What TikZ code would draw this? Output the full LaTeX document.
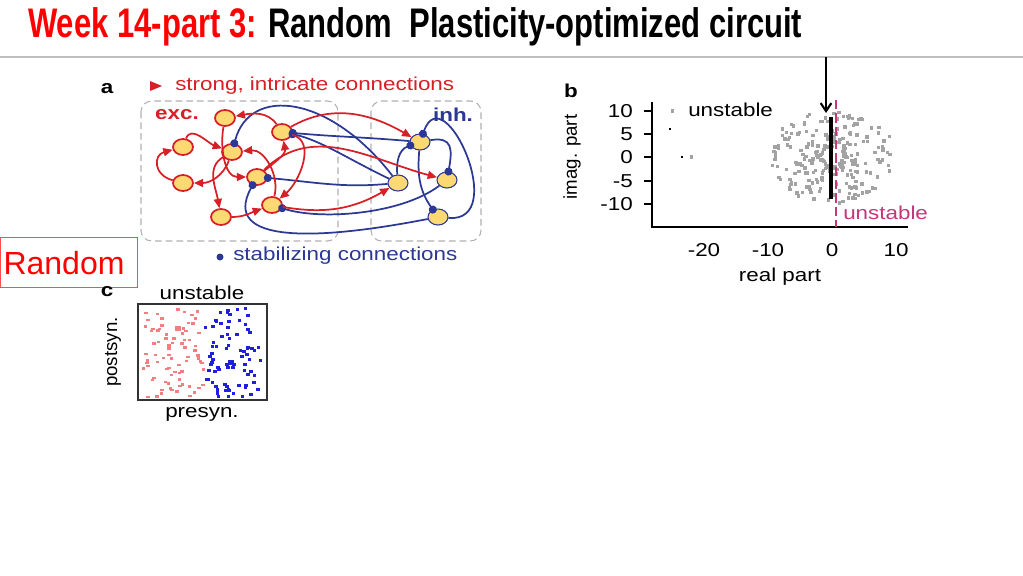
\documentclass[tikz,border=0pt]{standalone}
\usepackage{fontspec}
\setmainfont{Liberation Sans}
\usepackage{tikz}
\usetikzlibrary{arrows.meta}
\usetikzlibrary{shapes.geometric}
\definecolor{titlered}{rgb}{1.0, 0.0, 0.0}
\definecolor{excred}{rgb}{0.84, 0.12, 0.15}
\definecolor{inhblue}{rgb}{0.17, 0.22, 0.58}
\definecolor{cellfill}{rgb}{0.99, 0.85, 0.45}
\definecolor{unstab}{rgb}{0.76, 0.22, 0.47}
\definecolor{dotgray}{rgb}{0.64, 0.64, 0.64}
\definecolor{prepink}{rgb}{0.94, 0.50, 0.50}
\definecolor{postblue}{rgb}{0.12, 0.12, 0.88}
\newcommand{\widetxt}[1]{\scalebox{1.2}[1]{#1}}

\begin{document}
\begin{tikzpicture}[x=0.75pt, y=0.75pt,
    panel/.style={font=\fontsize{14}{16}\selectfont, inner sep=0pt},
    tag/.style={font=\fontsize{14}{16}\selectfont\bfseries, inner sep=0pt},
    exc/.style={ellipse, draw=excred, fill=cellfill, line width=1.3pt, minimum width=15pt, minimum height=12pt, inner sep=0pt},
    inh/.style={ellipse, draw=inhblue, fill=cellfill, line width=0.8pt, minimum width=15pt, minimum height=12pt, inner sep=0pt},
    strong/.style={draw=excred, line width=1.3pt, -{Triangle[length=7pt, width=6pt]}},
    stab/.style={draw=inhblue, line width=1.3pt, shorten >=-3pt, -{Circle[length=6pt]}},
    group/.style={draw=gray!60, line width=0.8pt, dash pattern=on 5pt off 3pt, rounded corners=8pt}]
    \useasboundingbox (0,0) rectangle (1023,-575);
    \fill [white] (0,0) rectangle (1023,-575);

    % title and rule
    \node [anchor=base west, inner sep=0pt, font=\fontsize{31}{31}\selectfont\bfseries] (title) at (28,-37)
        {\scalebox{0.75}[1]{\textcolor{titlered}{Week 14-part 3:} Random\ \ Plasticity-optimized circuit}};
    \draw [gray!50, line width=2pt] (0,-57) -- (1023,-57);

    \draw [red!70, line width=0.6pt] (0,-237) rectangle (137,-287);
    \node [text=titlered, font=\fontsize{24}{26}\selectfont, inner sep=0pt] (random) at (64,-263) {Random};

    % panel a
    \node [tag] (taga) at (107,-89) {\widetxt{a}};
    \fill [excred] (150,-81) -- (162,-86) -- (150,-91) -- cycle;
    \node [panel, text=excred, anchor=west] (strongtxt) at (175,-86) {\widetxt{strong, intricate connections}};
    \draw [group] (141,-101) rectangle (338,-241);
    \draw [group] (371,-101) rectangle (481,-241);
    \node [tag, text=excred] (exclbl) at (177,-115) {\widetxt{exc.}};
    \node [tag, text=inhblue] (inhlbl) at (453,-115) {\widetxt{inh.}};

    \node [exc] (e1) at (225,-118) {};
    \node [exc] (e2) at (183,-147) {};
    \node [exc] (e3) at (232,-152) {};
    \node [exc] (e4) at (282,-132) {};
    \node [exc] (e5) at (183,-183) {};
    \node [exc] (e6) at (257,-177) {};
    \node [exc] (e7) at (272,-205) {};
    \node [exc] (e8) at (221,-217) {};
    \node [inh] (i1) at (420,-142) {};
    \node [inh] (i2) at (398,-183) {};
    \node [inh] (i3) at (447,-180) {};
    \node [inh] (i4) at (438,-217) {};

    % stabilizing (blue) connections
    \draw [stab] (i2) .. controls (330,-95) and (250,-85) .. (e3);
    \draw [stab] (i1) to [out=175, in=-5] (e4);
    \draw [stab] (i2) .. controls (350,-160) and (320,-140) .. (e4);
    \draw [stab] (i2) to [out=185, in=-5] (e6);
    \draw [stab] (i4) .. controls (320,-240) and (220,-245) .. (e6);
    \draw [stab] (i3) .. controls (400,-215) and (320,-220) .. (e7);
    \draw [stab] (i1) to [out=10, in=80, looseness=1.6] (i3);
    \draw [stab] (i2) to [out=95, in=200] (i1);
    \draw [stab] (i1) to [out=-95, in=125] (i4);
    \draw [stab] (i4) to [out=-5, in=70, looseness=1.8] (i1);

    % strong (red) connections
    \draw [strong] (e2) to [out=70, in=160] (e3);
    \draw [strong] (e5) to [out=165, in=195, looseness=1.7] (e2);
    \draw [strong] (e3) to [out=-110, in=0] (e5);
    \draw [strong] (e4) to [out=125, in=10] (e1);
    \draw [strong] (e1) to [out=-100, in=180] (e6);
    \draw [strong] (e3) to [out=-150, in=100] (e8);
    \draw [strong] (e8) to [out=0, in=200] (e7);
    \draw [strong] (e7) to [out=75, in=5] (e3);
    \draw [strong] (e6) to [out=40, in=-80] (e4);
    \draw [strong] (e4) to [out=-15, in=40] (e7);
    \draw [strong] (e4) to [out=30, in=150] (i1);
    \draw [strong] (e6) to [out=45, in=165] (i3);
    \draw [strong] (e7) to [out=-10, in=210] (i2);

    \fill [inhblue] (220,-257) circle (3.5);
    \node [panel, text=inhblue, anchor=west] (stabtxt) at (233,-256) {\widetxt{stabilizing connections}};

    % panel b
    \node [tag] (tagb) at (571,-91) {\widetxt{b}};
    \draw [line width=0.8pt] (652,-102) -- (652,-227) -- (908,-227);
    \foreach \v/\py in {10/111, 5/134, 0/157, -5/181, -10/204} {
        \draw [line width=0.8pt] (644,-\py) -- (651,-\py);
        \node [panel, anchor=east] at (633,-\py) {\widetxt{\v}};
    }
    \foreach \v/\px in {-20/704, -10/768, 0/832, 10/896} {
        \node [panel] at (\px,-250) {\widetxt{\v}};
    }
    \node [panel, rotate=90] (ylbl) at (572,-157) {imag. part};
    \node [panel] (xlbl) at (780,-277) {\widetxt{real part}};

    \pgfmathsetseed{17}
    \foreach \k in {1,...,250} {
        \pgfmathsetmacro{\ang}{360*rnd}
        \pgfmathsetmacro{\rad}{0.15+0.85*rnd}
        \fill [dotgray] ({833+63*\rad*cos(\ang)-1.7},{-157+47*\rad*sin(\ang)-1.7}) rectangle ++(3.4,3.4);
    }
    \fill [dotgray] (670.5,-112.5) rectangle ++(3.4,3.4);
    \fill [dotgray] (689.5,-158.5) rectangle ++(3.4,3.4);
    \fill [black] (669,-130) rectangle ++(2.2,2.2);
    \fill [black] (681,-158) rectangle ++(2.2,2.2);
    \draw [line width=2.4pt] (831,-117) -- (831,-199);
    \draw [unstab, line width=2pt, dash pattern=on 7pt off 3pt] (836,-100) -- (836,-227);
    \node [panel, anchor=west] (unstb) at (688,-110) {\widetxt{unstable}};
    \node [panel, anchor=west, text=unstab] (unstr) at (843,-213) {\widetxt{unstable}};

    \coordinate (arrtop) at (826,-57);
    \coordinate (arrtip) at (826,-113);
    \draw [line width=1.6pt, -{Straight Barb[length=6pt, width=8pt]}] (arrtop) -- (arrtip);

    % panel c
    \node [tag] (tagc) at (107,-292) {\widetxt{c}};
    \node [panel] (ctitle) at (202,-293) {\widetxt{unstable}};
    \pgfmathsetseed{5}
    \foreach \k in {1,...,80} {
        \pgfmathsetmacro{\cx}{141+61*rnd}
        \pgfmathsetmacro{\cy}{307+89*rnd}
        \fill [prepink] (\cx,-\cy) rectangle ++(3.5,-2.5);
    }
    \foreach \k in {1,...,80} {
        \pgfmathsetmacro{\cx}{203+60*rnd}
        \pgfmathsetmacro{\cy}{307+89*rnd}
        \fill [postblue] (\cx,-\cy) rectangle ++(3.5,-3);
    }
    \fill [prepink] (175,-326) rectangle ++(6,-5);
    \fill [postblue] (228,-360) rectangle ++(6,-5);
    \draw [line width=0.8pt, black!80] (138,-304) rectangle (267,-400);
    \node [panel, rotate=90] (clbl) at (113,-352) {postsyn.};
    \node [panel] (cx) at (202,-414) {\widetxt{presyn.}};
\end{tikzpicture}
\end{document}
